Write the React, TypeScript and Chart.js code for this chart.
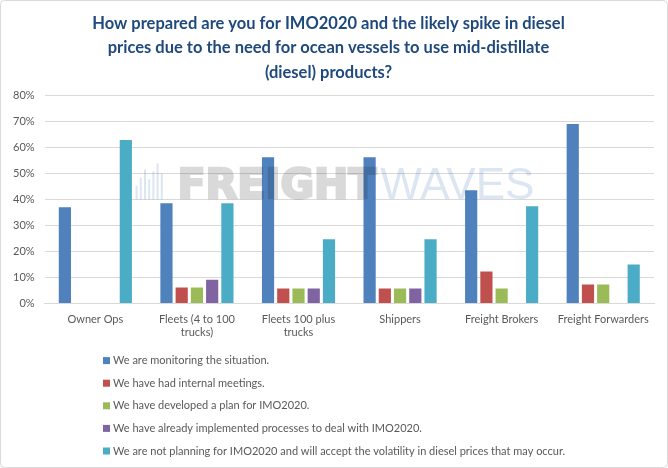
import React, { useEffect, useRef } from "react";
import { Chart, registerables } from "chart.js";

Chart.register(...registerables);

const categories: (string | string[])[] = [
  "Owner Ops",
  ["Fleets (4 to 100", "trucks)"],
  ["Fleets 100 plus", "trucks"],
  "Shippers",
  "Freight Brokers",
  "Freight Forwarders",
];

const seriesNames = [
  "We are monitoring the situation.",
  "We have had internal meetings.",
  "We have developed a plan for IMO2020.",
  "We have already implemented processes to deal with IMO2020.",
  "We are not planning for IMO2020 and will accept the volatility in diesel prices that may occur.",
];

const monitoring = [37.0, 38.5, 56.2, 56.2, 43.5, 69.0];
const meetings = [0, 6.2, 5.8, 5.8, 12.3, 7.3];
const developedPlan = [0, 6.2, 5.8, 5.8, 5.8, 7.3];
const implemented = [0, 9.2, 5.8, 5.8, 0, 0];
const notPlanning = [62.8, 38.5, 24.7, 24.7, 37.4, 15.0];

const seriesColors = ["#4F81BD", "#C0504D", "#9BBB59", "#8064A2", "#4BACC6"];

const titleLines = [
  "How prepared are you for IMO2020 and the likely spike in diesel",
  "prices due to the need for ocean vessels to use mid-distillate",
  "(diesel) products?",
];

const FONT = "Lato, 'Open Sans', sans-serif";

const framePlugin = {
  id: "frame",
  beforeDraw(chart: any) {
    const { ctx, width, height } = chart;
    ctx.save();
    ctx.fillStyle = "#ffffff";
    ctx.fillRect(0, 0, width, height);
    ctx.strokeStyle = "#d9d9d9";
    ctx.lineWidth = 1;
    const r = 4;
    const x = 0.5, y = 0.5, w = width - 1, h = height - 1;
    ctx.beginPath();
    ctx.moveTo(x + r, y);
    ctx.lineTo(x + w - r, y);
    ctx.arcTo(x + w, y, x + w, y + r, r);
    ctx.lineTo(x + w, y + h - r);
    ctx.arcTo(x + w, y + h, x + w - r, y + h, r);
    ctx.lineTo(x + r, y + h);
    ctx.arcTo(x, y + h, x, y + h - r, r);
    ctx.lineTo(x, y + r);
    ctx.arcTo(x, y, x + r, y, r);
    ctx.stroke();
    ctx.restore();
  },
};

const watermarkPlugin = {
  id: "watermark",
  afterDatasetsDraw(chart: any) {
    const { ctx, chartArea, width, height } = chart;
    const yScale = chart.scales.y;
    const baseY = yScale.getPixelForValue(40);
    const left = chartArea.left + 133;
    const off = document.createElement("canvas");
    off.width = width;
    off.height = height;
    const o = off.getContext("2d")!;
    o.fillStyle = "#ffffff";
    o.fillRect(0, 0, width, height);
    // icon
    o.fillStyle = "#dce6f2";
    for (let i = 0; i < 7; i++) {
      const hh = 14 + (i % 3) * 6 + i * 2;
      o.fillRect(left - 42 + i * 4.2, baseY - hh, 2, hh);
    }
    o.font = "bold 41px 'DejaVu Sans', sans-serif";
    o.textBaseline = "alphabetic";
    o.fillStyle = "#d9d9d9";
    o.strokeStyle = "#d9d9d9";
    o.lineWidth = 2.5;
    o.fillText("FREIGHT", left, baseY);
    o.strokeText("FREIGHT", left, baseY - 1);
    const w1 = o.measureText("FREIGHT").width;
    o.font = "44px 'Liberation Sans', Arial, sans-serif";
    o.fillStyle = "#dce6f2";
    o.fillText("WAVES", left + w1 + 4, baseY);
    ctx.save();
    ctx.globalCompositeOperation = "multiply";
    ctx.drawImage(off, 0, 0, width, height);
    ctx.restore();
  },
};

const legendPlugin = {
  id: "customLegend",
  afterDraw(chart: any) {
    const { ctx, chartArea } = chart;
    ctx.save();
    ctx.font = `11px ${FONT}`;
    ctx.textBaseline = "middle";
    chart.data.datasets.forEach((ds: any, i: number) => {
      const y = chartArea.bottom + 57 + i * 22.6;
      ctx.fillStyle = ds.backgroundColor;
      ctx.fillRect(103, y - 3.5, 7, 7);
      ctx.fillStyle = "#595959";
      ctx.fillText(ds.label, 113, y);
    });
    ctx.restore();
  },
};

export default function App() {
  const ref = useRef<HTMLCanvasElement>(null);

  useEffect(() => {
    document.body.style.margin = "0";
    const seriesData = [monitoring, meetings, developedPlan, implemented, notPlanning];
    const chart = new Chart(ref.current!, {
      type: "bar",
      data: {
        labels: categories,
        datasets: seriesNames.map((name, i) => ({
          label: name,
          data: seriesData[i],
          backgroundColor: seriesColors[i],
          categoryPercentage: 0.75,
          barPercentage: 0.8,
        })),
      },
      options: {
        animation: false,
        responsive: false,
        maintainAspectRatio: false,
        layout: { padding: { left: 3, right: 14, top: 0, bottom: 120 } },
        plugins: {
          legend: { display: false },
          tooltip: { enabled: false },
          title: {
            display: true,
            text: titleLines,
            color: "#1F497D",
            font: { family: FONT, size: 16.5, weight: "bold", lineHeight: 1.46 },
            padding: { top: 12, bottom: 11 },
          },
        },
        scales: {
          x: {
            grid: { display: false, drawTicks: false },
            border: { display: true, color: "#d9d9d9" },
            ticks: {
              color: "#595959",
              font: { family: FONT, size: 11 },
              padding: 9,
              maxRotation: 0,
              autoSkip: false,
            },
          },
          y: {
            min: 0,
            max: 80,
            grid: { color: "#d9d9d9", drawTicks: false },
            border: { display: false },
            ticks: {
              stepSize: 10,
              color: "#595959",
              font: { family: FONT, size: 11 },
              padding: 10,
              callback: (v: any) => `${v}%`,
            },
          },
        },
      },
      plugins: [framePlugin, watermarkPlugin, legendPlugin],
    });
    return () => chart.destroy();
  }, []);

  return (
    <div style={{ width: 668, height: 468 }}>
      <canvas ref={ref} width={668} height={468} style={{ display: "block" }} />
    </div>
  );
}
